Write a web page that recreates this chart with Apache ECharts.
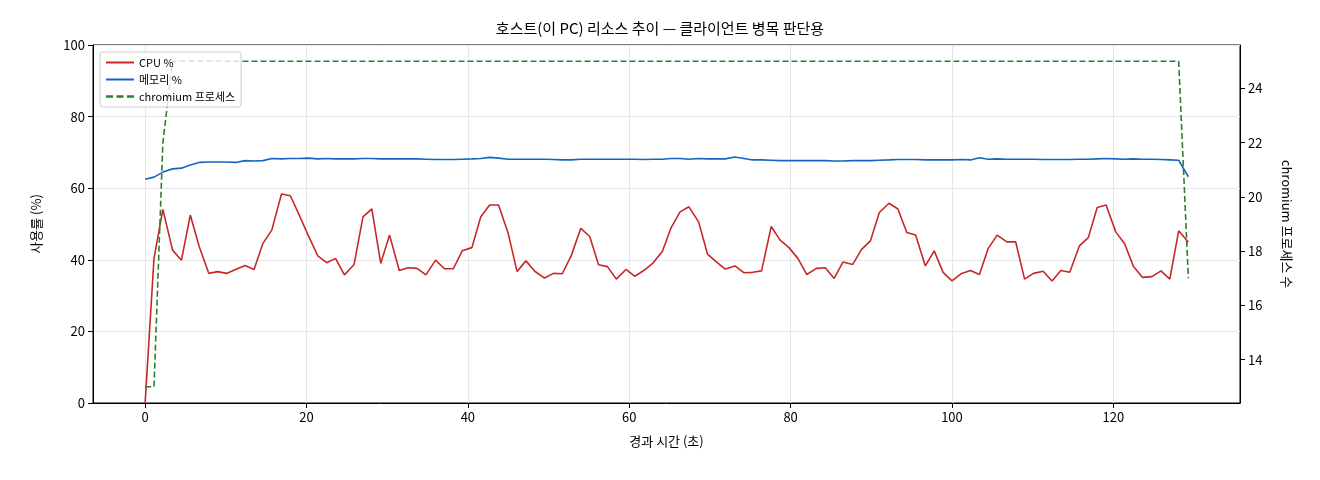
<!DOCTYPE html>
<html>
<head>
<meta charset="utf-8">
<script src="https://cdn.jsdelivr.net/npm/echarts@6/dist/echarts.min.js"></script>
<style>html,body{margin:0;padding:0;background:#fff}#main{width:1320px;height:480px}</style>
</head>
<body>
<div id="main"></div>
<script>
var times = [0,1.1,2.2,3.4,4.5,5.6,6.7,7.9,9.0,10.1,11.2,12.4,13.5,14.6,15.7,16.9,18.0,19.1,20.2,21.4,22.5,23.6,24.7,25.9,27.0,28.1,29.2,30.3,31.5,32.6,
  33.7,34.8,36.0,37.1,38.2,39.3,40.5,41.6,42.7,43.8,45.0,46.1,47.2,48.3,49.5,50.6,51.7,52.8,54.0,55.1,56.2,57.3,58.4,59.6,60.7,61.8,62.9,64.1,
  65.2,66.3,67.4,68.6,69.7,70.8,71.9,73.1,74.2,75.3,76.4,77.6,78.7,79.8,80.9,82.0,83.2,84.3,85.4,86.5,87.7,88.8,89.9,91.0,92.2,93.3,94.4,95.5,96.7,
  97.8,98.9,100.0,101.2,102.3,103.4,104.5,105.6,106.8,107.9,109.0,110.1,111.3,112.4,113.5,114.6,115.8,116.9,118.0,119.1,120.3,121.4,122.5,123.6,
  124.8,125.9,127.0,128.1,129.3];
var cpu = [0,40.4,54.1,42.7,39.9,52.5,43.7,36.2,36.7,36.2,37.3,38.4,37.3,44.6,48.3,58.4,57.9,52.5,46.9,41.1,39.2,40.4,35.8,38.7,52,54.2,39,46.9,37,37.8,
  37.6,35.8,39.9,37.5,37.5,42.5,43.4,52,55.3,55.3,47.4,36.7,39.7,36.8,34.9,36.2,36.1,41.1,48.8,46.5,38.6,38.1,34.6,37.3,35.4,37,39,42.3,
  49,53.4,54.8,50.6,41.6,39.4,37.4,38.3,36.4,36.5,36.9,49.3,45.5,43.4,40.4,35.9,37.6,37.8,34.8,39.4,38.7,42.9,45.3,53.2,55.8,54.2,47.6,46.9,38.3,
  42.5,36.5,34.1,36.2,37,35.9,43.2,46.9,45,45,34.6,36.2,36.8,34.1,37,36.5,43.9,46.2,54.6,55.3,47.8,44.5,38.1,35.1,35.3,36.9,34.6,48.1,44.9];
var mem = [62.5,63.1,64.5,65.4,65.6,66.5,67.2,67.3,67.3,67.3,67.2,67.7,67.6,67.7,68.3,68.2,68.3,68.3,68.4,68.2,68.3,68.2,68.2,68.2,68.3,68.3,68.2,68.2,68.2,68.2,
  68.2,68.1,68,68,68,68.1,68.2,68.3,68.6,68.4,68.1,68.1,68.1,68.1,68.1,68,67.9,67.9,68.1,68.1,68.1,68.1,68.1,68.1,68.1,68,68.1,68.1,
  68.3,68.3,68.1,68.3,68.2,68.2,68.2,68.7,68.3,67.9,67.9,67.8,67.7,67.7,67.7,67.7,67.7,67.7,67.6,67.6,67.7,67.7,67.7,67.8,67.9,68,68,68,67.9,
  67.9,67.9,67.9,68,67.9,68.5,68.1,68.2,68.1,68.1,68.1,68.1,68,68,68,68,68.1,68.1,68.2,68.3,68.2,68.1,68.2,68.1,68.1,68,67.9,67.8,63.2];
var procs = [13,13,22,25,25,25,25,25,25,25,25,25,25,25,25,25,25,25,25,25,25,25,25,25,25,25,25,25,25,25,
  25,25,25,25,25,25,25,25,25,25,25,25,25,25,25,25,25,25,25,25,25,25,25,25,25,25,25,25,
  25,25,25,25,25,25,25,25,25,25,25,25,25,25,25,25,25,25,25,25,25,25,25,25,25,25,25,25,25,
  25,25,25,25,25,25,25,25,25,25,25,25,25,25,25,25,25,25,25,25,25,25,25,25,25,25,25,25,17];
var xTicks = [0, 20, 40, 60, 80, 100, 120];
var rightTicks = [14, 16, 18, 20, 22, 24];

function pairs(ys) { return ys.map(function(v, i) { return [times[i], v]; }); }

var font = '"Noto Sans CJK KR", "DejaVu Sans", sans-serif';
var chart = echarts.init(document.getElementById('main'));
chart.setOption({
	animation: false,
	textStyle: { fontFamily: font },
	title: {
		text: '호스트(이 PC) 리소스 추이 — 클라이언트 병목 판단용',
		left: 'center', top: 16,
		textStyle: { fontSize: 15, fontWeight: 'normal', color: '#000', fontFamily: font }
	},
	grid: { left: 93, right: 80, top: 45, bottom: 77, show: true, borderColor: '#000', borderWidth: 1 },
	legend: {
		left: 100, top: 52, orient: 'vertical', itemGap: 6, itemWidth: 28, itemHeight: 10,
		backgroundColor: 'rgba(255,255,255,0.8)', borderColor: '#ccc', borderWidth: 1, borderRadius: 3,
		padding: [5, 6],
		textStyle: { fontSize: 11, color: '#000' },
		data: [
			{ name: 'CPU %', icon: 'path://M0,4h28v2h-28z' },
			{ name: '메모리 %', icon: 'path://M0,4h28v2h-28z' },
			{ name: 'chromium 프로세스', icon: 'path://M0,4h6v2h-6zM9,4h6v2h-6zM18,4h6v2h-6z' }
		]
	},
	xAxis: {
		type: 'value', min: -6.46, max: 135.7,
		name: '경과 시간 (초)', nameLocation: 'middle', nameGap: 32,
		nameTextStyle: { fontSize: 13, color: '#000' },
		axisLine: { onZero: false, lineStyle: { color: '#000' } },
		axisTick: { customValues: xTicks, length: 5, lineStyle: { color: '#000' } },
		axisLabel: { customValues: xTicks, fontSize: 13, color: '#000' },
		splitLine: { show: true, lineStyle: { color: '#e6e6e6' } }
	},
	yAxis: [{
		type: 'value', min: 0, max: 100, interval: 20,
		name: '사용률 (%)', nameLocation: 'middle', nameGap: 50,
		nameTextStyle: { fontSize: 13, color: '#000' },
		axisLine: { show: true, onZero: false, lineStyle: { color: '#000' } },
		axisTick: { show: true, length: 5, lineStyle: { color: '#000' } },
		axisLabel: { fontSize: 13, color: '#000' },
		splitLine: { show: true, lineStyle: { color: '#e6e6e6' } }
	}, {
		type: 'value', min: 12.4, max: 25.6, position: 'right',
		name: 'chromium 프로세스 수', nameLocation: 'middle', nameGap: 40, nameRotate: -90,
		nameTextStyle: { fontSize: 13, color: '#000' },
		axisLine: { show: true, onZero: false, lineStyle: { color: '#000' } },
		axisTick: { customValues: rightTicks, length: 5, lineStyle: { color: '#000' } },
		axisLabel: { customValues: rightTicks, fontSize: 13, color: '#000' },
		splitLine: { show: false }
	}],
	series: [{
		name: 'CPU %', type: 'line', showSymbol: false, data: pairs(cpu),
		lineStyle: { color: '#c62828', width: 1.6 }, itemStyle: { color: '#c62828' }
	}, {
		name: '메모리 %', type: 'line', showSymbol: false, data: pairs(mem),
		lineStyle: { color: '#1565c0', width: 1.6 }, itemStyle: { color: '#1565c0' }
	}, {
		name: 'chromium 프로세스', type: 'line', yAxisIndex: 1, showSymbol: false, data: pairs(procs),
		lineStyle: { color: '#2e7d32', width: 1.6, type: [6, 3] }, itemStyle: { color: '#2e7d32' }
	}]
});
</script>
</body>
</html>
